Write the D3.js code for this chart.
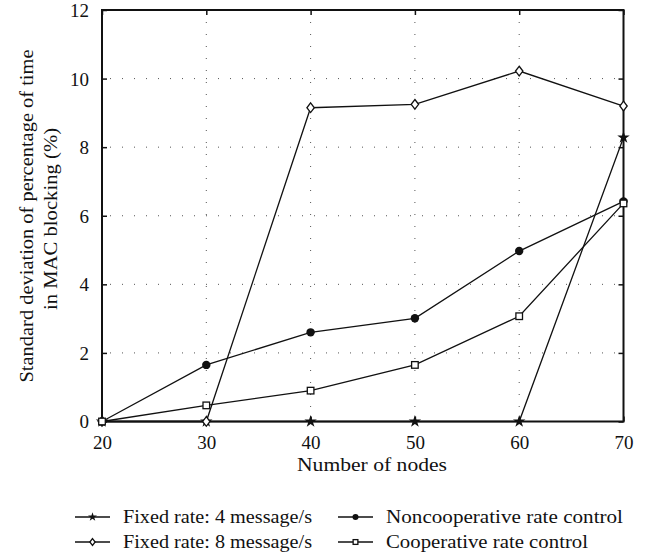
<!DOCTYPE html>
<html>
<head>
<meta charset="utf-8">
<script src="https://cdn.jsdelivr.net/npm/d3@7"></script>
<style>
  html, body { margin: 0; padding: 0; background: #fff; }
  svg { display: block; }
</style>
</head>
<body>
<svg id="chart" width="648" height="558"></svg>
<script>
// ---- data ----
const nodes = [20, 30, 40, 50, 60, 70];
const fixed4 = [0, 0, 0, 0, 0, 8.28];
const fixed8 = [0, 0, 9.15, 9.25, 10.22, 9.2];
const noncoop = [0, 1.65, 2.6, 3.01, 4.97, 6.42];
const coop = [0, 0.47, 0.9, 1.65, 3.07, 6.36];
const xTicks = [20, 30, 40, 50, 60, 70];
const yTicks = [0, 2, 4, 6, 8, 10, 12];
const seriesNames = ["Fixed rate: 4 message/s", "Fixed rate: 8 message/s",
                     "Noncooperative rate control", "Cooperative rate control"];
const xTitle = "Number of nodes";
const yTitle1 = "Standard deviation of percentage of time";
const yTitle2 = "in MAC blocking (%)";

// ---- layout ----
const FONT = "Liberation Serif";
const L = 102, R = 623.5, T = 10, B = 421.5;
const svg = d3.select("#chart");
const x = d3.scaleLinear().domain([20, 70]).range([L, R]);
const y = d3.scaleLinear().domain([0, 12]).range([B, T]);

// grid (dotted)
const grid = svg.append("g");
grid.selectAll(".vg").data(xTicks.filter(v => v > 20 && v < 70)).join("line")
  .attr("x1", d => x(d)).attr("x2", d => x(d)).attr("y1", T).attr("y2", B)
  .attr("stroke", "#555").attr("stroke-width", 1).attr("stroke-dasharray", "1,11");
grid.selectAll(".hg").data(yTicks.filter(v => v > 0 && v < 12)).join("line")
  .attr("x1", L).attr("x2", R).attr("y1", d => y(d)).attr("y2", d => y(d))
  .attr("stroke", "#555").attr("stroke-width", 1).attr("stroke-dasharray", "1,11")
  .attr("stroke-dashoffset", -8);

// axes with inward ticks
const tickLen = 5;
const fontSize = 18;
const tickFont = 19;
const axB = svg.append("g").attr("transform", `translate(0,${B})`)
  .call(d3.axisBottom(x).tickValues(xTicks).tickSize(-tickLen).tickPadding(14).tickSizeOuter(0));
const axT = svg.append("g").attr("transform", `translate(0,${T})`)
  .call(d3.axisTop(x).tickValues(xTicks).tickSize(-tickLen).tickFormat("").tickSizeOuter(0));
const axL = svg.append("g").attr("transform", `translate(${L},0)`)
  .call(d3.axisLeft(y).tickValues(yTicks).tickSize(-tickLen).tickPadding(13).tickSizeOuter(0));
const axR = svg.append("g").attr("transform", `translate(${R},0)`)
  .call(d3.axisRight(y).tickValues(yTicks).tickSize(-tickLen).tickFormat("").tickSizeOuter(0));
[axB, axT, axL, axR].forEach(a => {
  a.attr("font-family", FONT).attr("font-size", tickFont);
  a.select(".domain").remove();
  a.selectAll(".tick line").attr("stroke", "#111").attr("stroke-width", 1.5);
  a.selectAll("text").attr("fill", "#111");
});
axB.selectAll("text").attr("dy", "0.71em");
axL.selectAll("text").attr("dy", "0.34em");

// frame
svg.append("rect").attr("x", L).attr("y", T).attr("width", R - L).attr("height", B - T)
  .attr("fill", "none").attr("stroke", "#111").attr("stroke-width", 2);

// marker drawers
function drawMarker(g, kind, cx, cy, s) {
  s = s || 1;
  if (kind === "star") {
    g.append("path").attr("d", d3.symbol(d3.symbolStar, 48 * s * s)())
      .attr("transform", `translate(${cx},${cy})`).attr("fill", "#111");
  } else if (kind === "diamond") {
    const w = 3.7 * s, h = 4.8 * s;
    g.append("path").attr("d", `M${cx},${cy - h}L${cx + w},${cy}L${cx},${cy + h}L${cx - w},${cy}Z`)
      .attr("fill", "#fff").attr("stroke", "#111").attr("stroke-width", 1.3);
  } else if (kind === "circle") {
    g.append("circle").attr("cx", cx).attr("cy", cy).attr("r", 4.2 * s).attr("fill", "#111");
  } else if (kind === "square") {
    const h = 3.3 * s;
    g.append("rect").attr("x", cx - h).attr("y", cy - h).attr("width", 2 * h).attr("height", 2 * h)
      .attr("fill", "#fff").attr("stroke", "#111").attr("stroke-width", 1.3);
  }
}

const series = [
  { name: seriesNames[0], values: fixed4, kind: "star" },
  { name: seriesNames[1], values: fixed8, kind: "diamond" },
  { name: seriesNames[2], values: noncoop, kind: "circle" },
  { name: seriesNames[3], values: coop, kind: "square" }
];

const line = d3.line().x(d => x(d[0])).y(d => y(d[1]));
const linesG = svg.append("g");
series.forEach(s => {
  linesG.append("path").datum(nodes.map((n, i) => [n, s.values[i]]))
    .attr("d", line).attr("fill", "none").attr("stroke", "#111").attr("stroke-width", 1.3);
});
const marksG = svg.append("g");
series.forEach(s => {
  nodes.forEach((n, i) => drawMarker(marksG, s.kind, x(n), y(s.values[i]), 1));
});

// axis titles
function txt(sel) { return sel.attr("font-family", FONT).attr("font-size", fontSize).attr("fill", "#111"); }
txt(svg.append("text")).attr("x", 372).attr("y", 471).attr("text-anchor", "middle")
  .attr("textLength", 150).attr("lengthAdjust", "spacingAndGlyphs")
  .text(xTitle);
txt(svg.append("text")).attr("transform", "translate(33,216) rotate(-90)").attr("text-anchor", "middle")
  .attr("textLength", 333).attr("lengthAdjust", "spacingAndGlyphs")
  .text(yTitle1);
txt(svg.append("text")).attr("transform", "translate(57,219) rotate(-90)").attr("text-anchor", "middle")
  .attr("textLength", 182).attr("lengthAdjust", "spacingAndGlyphs")
  .text(yTitle2);

// legend
const legendPos = [
  { lx: 75, ly: 517, tw: 189 },
  { lx: 75, ly: 542, tw: 189 },
  { lx: 338, ly: 517, tw: 237 },
  { lx: 338, ly: 542, tw: 202 }
];
const legG = svg.append("g");
series.forEach((s, i) => {
  const p = legendPos[i];
  legG.append("line").attr("x1", p.lx).attr("x2", p.lx + 35).attr("y1", p.ly).attr("y2", p.ly)
    .attr("stroke", "#111").attr("stroke-width", 1.3);
  drawMarker(legG, s.kind, p.lx + 17.5, p.ly, 0.72);
  txt(legG.append("text")).attr("x", p.lx + 48).attr("y", p.ly + 6)
    .attr("textLength", p.tw).attr("lengthAdjust", "spacingAndGlyphs").text(s.name);
});
</script>
</body>
</html>
